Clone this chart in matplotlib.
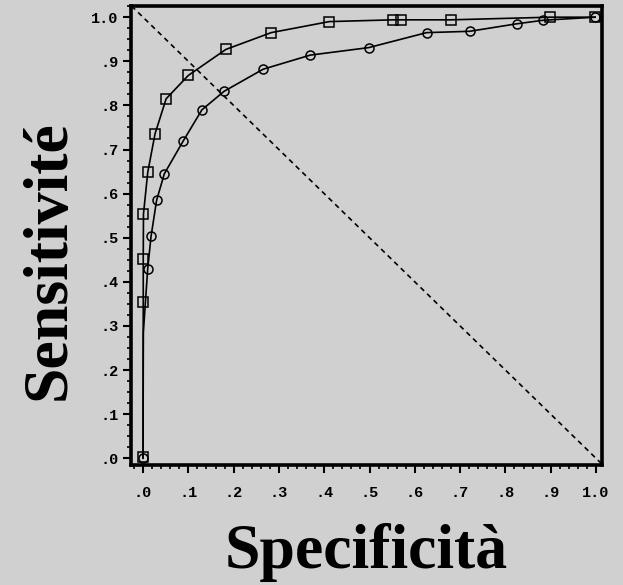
import matplotlib.pyplot as plt
from matplotlib.ticker import MultipleLocator, FixedLocator

# ROC curves
spec_sq = [0.0, 0.0005, 0.0005, 0.001, 0.0104, 0.0266, 0.051, 0.100, 0.183,
           0.283, 0.411, 0.552, 0.569, 0.680, 0.899, 0.998]
sens_sq = [0.002, 0.354, 0.452, 0.554, 0.648, 0.736, 0.815, 0.868, 0.927,
           0.965, 0.990, 0.994, 0.994, 0.994, 1.0, 1.0]

spec_ci = [0.0, 0.0007, 0.0103, 0.0177, 0.030, 0.047, 0.0885, 0.130, 0.179,
           0.265, 0.369, 0.498, 0.626, 0.721, 0.825, 0.883, 0.998]
sens_ci = [0.0, 0.285, 0.429, 0.503, 0.585, 0.645, 0.719, 0.790, 0.832,
           0.882, 0.914, 0.931, 0.965, 0.968, 0.985, 0.993, 1.0]
ci_marked = [i for i in range(len(spec_ci)) if i != 1]

ticks = [0.0, 0.1, 0.2, 0.3, 0.4, 0.5, 0.6, 0.7, 0.8, 0.9, 1.0]
tick_labels = ['.0', '.1', '.2', '.3', '.4', '.5', '.6', '.7', '.8', '.9', '1.0']

bg = '#d0d0d0'
fig = plt.figure(figsize=(6.23, 5.85), dpi=100, facecolor=bg)
ax = fig.add_axes([0.2103, 0.2051, 0.7560, 0.7846], facecolor=bg)

ax.axline((0, 1), (1, 0), color='black', lw=1.2, ls=(0, (3, 2.5)))
ax.plot(spec_ci, sens_ci, color='black', lw=1.2, marker='o', ms=6.5,
        mfc='none', mec='black', mew=1.1, markevery=ci_marked)
ax.plot(spec_sq, sens_sq, color='black', lw=1.2, marker='s', ms=6.5,
        mfc='none', mec='black', mew=1.1)

ax.set_xlim(-0.0265, 1.0132)
ax.set_ylim(-0.0152, 1.0253)

ax.xaxis.set_major_locator(FixedLocator(ticks))
ax.yaxis.set_major_locator(FixedLocator(ticks))
ax.xaxis.set_minor_locator(MultipleLocator(0.02))
ax.yaxis.set_minor_locator(MultipleLocator(0.025))
tfont = dict(family='Liberation Mono', weight='bold', size=11)
ax.set_xticklabels(tick_labels, fontdict=tfont)
ax.set_yticklabels(tick_labels, fontdict=tfont)

for s in ax.spines.values():
    s.set_linewidth(2.6)
ax.tick_params(which='major', length=6, width=1.5, direction='out')
ax.tick_params(which='minor', length=3, width=1.2, direction='out')
ax.tick_params(axis='x', which='major', pad=9)
ax.tick_params(axis='y', which='major', pad=3)

lfont = dict(family='Liberation Serif', weight='bold', size=46)
ax.set_xlabel('Specificità', fontdict=lfont, va='baseline')
ax.xaxis.set_label_coords(0.5, -0.224)
ax.set_ylabel('Sensitivité', fontdict=lfont, va='baseline')
ax.yaxis.set_label_coords(-0.140, 0.4466)

fig.savefig('out.png', dpi=100, facecolor=bg)
